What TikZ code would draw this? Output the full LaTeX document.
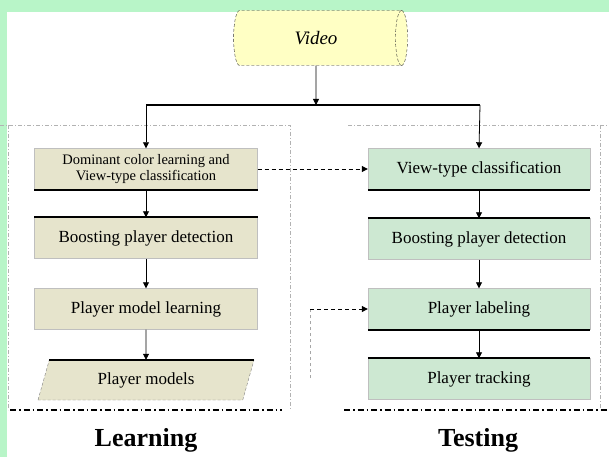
\documentclass[tikz,border=0pt]{standalone}
\usepackage{fontspec}
\setmainfont{Liberation Serif}
\usetikzlibrary{shapes.geometric,arrows.meta,calc}
\definecolor{bgGreen}{HTML}{B8F5C8}
\definecolor{vidYel}{HTML}{FFFFC4}
\definecolor{learnFill}{HTML}{E6E4CC}
\definecolor{testFill}{HTML}{CDE8D2}
\tikzset{
  boxfont/.style={font=\fontsize{17}{18}\selectfont},
  lbox/.style={draw=black!25, fill=learnFill, minimum width=223pt, minimum height=41pt, inner sep=1pt, align=center, boxfont},
  tbox/.style={draw=black!25, fill=testFill, minimum width=222pt, minimum height=41pt, inner sep=1pt, align=center, boxfont},
  flow/.style={black, line width=0.8pt, -{Triangle[width=6pt,length=6pt]}},
  dflow/.style={black, line width=1pt, dash pattern=on 4pt off 3pt, -{Triangle[width=6pt,length=6pt]}},
  thick edge/.style={black, line width=2pt},
  panel/.style={black!30, line width=0.5pt, dash pattern=on 4pt off 2pt on 1pt off 2pt},
  sep/.style={black, line width=1.4pt, dash pattern=on 6pt off 3pt on 1.5pt off 3pt},
  lbl/.style={font=\fontsize{26}{28}\selectfont\bfseries}
}
\begin{document}
\begin{tikzpicture}[x=1pt,y=-1pt]
\useasboundingbox (0,0) rectangle (609,457);
\fill[bgGreen] (0,0) rectangle (609,457);
\fill[white] (7,12) rectangle (609,457);
% panels
\draw[panel] (0,125) -- (290,125) -- (290,410);
\draw[panel] (8,125) -- (8,410);
\draw[panel] (348,125) -- (609,125);
\draw[panel] (600,125) -- (600,410);
% video
\node[cylinder, draw=black!80, densely dashed, fill=vidYel, minimum width=55pt, minimum height=174pt, shape border rotate=0, aspect=0.6, font=\fontsize{19}{20}\selectfont\itshape] (video) at (316,38) {Video};
\coordinate (split) at (316,105);
\coordinate (hL) at (146,105);
\coordinate (hR) at (480,105);
\draw[flow] (video.south) -- (split);
\draw[black, line width=1.3pt] (hL) -- (hR);
% learning column
\node[lbox, font=\fontsize{14.5}{16}\selectfont] (l1) at (146,169) {Dominant color learning and\\View-type classification};
\node[lbox] (l2) at (146,238) {Boosting player detection};
\node[lbox] (l3) at (146,309) {Player model learning};
\node[trapezium, trapezium left angle=63, trapezium right angle=117, draw=black!50, densely dashed, fill=learnFill, minimum width=216pt, minimum height=40pt, inner xsep=0pt, trapezium stretches body, boxfont] (l4) at (146,380) {Player models};
% testing column
\node[tbox] (t1) at (479,169) {View-type classification};
\node[tbox] (t2) at (479,239) {Boosting player detection};
\node[tbox] (t3) at (479,309) {Player labeling};
\node[tbox] (t4) at (479,379) {Player tracking};
% thick edges
\draw[thick edge] (l1.south west) -- (l1.south east);
\draw[thick edge] (l2.north west) -- (l2.north east);
\draw[thick edge] (l4.top left corner) -- (l4.top right corner);
\draw[thick edge] (t1.south west) -- (t1.south east);
\draw[thick edge] (t2.north west) -- (t2.north east);
\draw[thick edge] (t3.south west) -- (t3.south east);
\draw[thick edge] (t4.north west) -- (t4.north east);
% flows
\draw[flow] (hL) -- (l1.north);
\draw[flow] (hR) -- (t1.north);
\draw[flow] (l1.south) -- (l2.north);
\draw[flow] (l2.south) -- (l3.north);
\draw[flow] (l3.south) -- (l4.north);
\draw[flow] (t1.south) -- (t2.north);
\draw[flow] (t2.south) -- (t3.north);
\draw[flow] (t3.south) -- (t4.north);
\draw[dflow] (l1.east) -- (t1.west);
\coordinate (mfree) at (310,378);
\draw[black!35, line width=0.6pt, dashed] (mfree) -- (310,309);
\draw[dflow] (310,309) -- (t3.west);
% separators
\draw[sep] (10,410) -- (282,410);
\draw[sep] (344,410) -- (609,410);
\node[lbl] (learn) at (146,440) {Learning};
\node[lbl] (test) at (478,440) {Testing};
\end{tikzpicture}
\end{document}
